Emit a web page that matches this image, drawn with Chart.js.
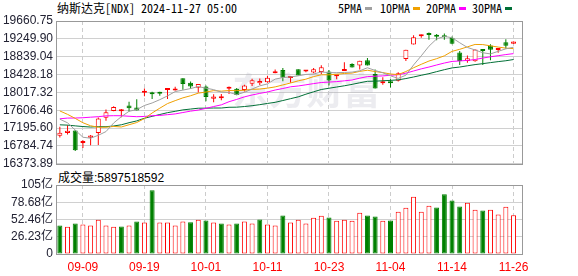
<!DOCTYPE html>
<html lang="zh">
<head>
<meta charset="UTF-8">
<title>纳斯达克[NDX] K线</title>
<script src="https://cdn.jsdelivr.net/npm/chart.js"></script>
<style>
    * { margin: 0; padding: 0; box-sizing: border-box; }
    body { width: 578px; height: 276px; background: #fff; position: relative; overflow: hidden; }
    canvas { position: absolute; left: 0; }
    #kline { top: 0; }
    #vol { top: 170px; }
    .txt { position: absolute; font-size: 12px; line-height: 14px; color: #000; white-space: nowrap; }
    .mono { font-family: 'Noto Sans Mono CJK SC', 'Noto Sans CJK SC', monospace; }
    .sw { position: absolute; top: 7px; width: 7px; height: 3px; }
    #title { left: 57px; top: 1px; }
    #vtitle { left: 58px; top: 171px; font-family: 'Liberation Sans', 'Noto Sans CJK SC', sans-serif; }
</style>
</head>
<body>
<div id="title" class="txt mono">纳斯达克[NDX] 2024-11-27 05:00</div>
<div class="txt mono" style="left:338px;top:1px">5PMA</div>
<div class="sw" style="left:365px;background:#a0a0a0"></div>
<div class="txt mono" style="left:380px;top:1px">10PMA</div>
<div class="sw" style="left:413px;background:#f0a000"></div>
<div class="txt mono" style="left:426px;top:1px">20PMA</div>
<div class="sw" style="left:459px;background:#ff00ff"></div>
<div class="txt mono" style="left:472px;top:1px">30PMA</div>
<div class="sw" style="left:505px;background:#006f36"></div>
<div id="vtitle" class="txt">成交量:5897518592</div>

<canvas id="kline" width="578" height="174"></canvas>
<canvas id="vol" width="578" height="106"></canvas>

<script>
// trading days shown (2024)
const dates = ['09-04','09-05','09-06','09-09','09-10','09-11','09-12','09-13','09-16','09-17',
    '09-18','09-19','09-20','09-23','09-24','09-25','09-26','09-27','09-30','10-01',
    '10-02','10-03','10-04','10-07','10-08','10-09','10-10','10-11','10-14','10-15',
    '10-16','10-17','10-18','10-21','10-22','10-23','10-24','10-25','10-28','10-29',
    '10-30','10-31','11-01','11-04','11-05','11-06','11-07','11-08','11-11','11-12',
    '11-13','11-14','11-15','11-18','11-19','11-20','11-21','11-22','11-25','11-26'];
const xTickLabels = ['09-09','09-19','10-01','10-11','10-23','11-04','11-14','11-26'];

const open = [17020,17081,17142,16853,16975,17081,17431,17591,17584,17713,
    17667,18010,18002,18010,18070,18063,18345,18238,18124,18154,
    17873,17880,18101,18101,18070,18215,18230,18253,18459,18535,
    18350,18550,18497,18474,18489,18497,18390,18512,18672,18634,
    18755,18443,18230,18253,18284,18786,19121,19311,19372,19318,
    19318,19273,18938,18740,18732,18991,19098,18991,19174,19136];
const high = [17226,17264,17150,16914,17035,17439,17622,17697,17637,17804,
    17857,18109,18033,18033,18093,18147,18345,18268,18208,18177,
    17972,17980,18154,18116,18192,18329,18337,18398,18542,18580,
    18390,18550,18520,18580,18641,18535,18413,18710,18687,18748,
    18809,18542,18367,18322,18481,18999,19334,19349,19395,19364,
    19372,19303,18968,18869,19006,18991,19128,19037,19242,19189];
const low = [16982,17051,16670,16739,16800,16807,17363,17584,17446,17576,
    17599,17926,17865,17941,17865,18063,18078,18101,18017,17812,
    17789,17835,17979,17949,18040,18162,18185,18238,18459,18276,
    18238,18405,18481,18459,18443,18177,18322,18512,18588,18542,
    18634,18109,18192,18131,18268,18740,19121,19273,19227,19220,
    19227,19128,18649,18702,18725,18649,18755,18930,19022,19136];
const close = [17089,17135,16686,16883,17028,17416,17561,17682,17606,17652,
    17599,18040,17972,17987,18088,18095,18208,18154,18208,17910,
    17925,17918,18124,17956,18177,18299,18282,18352,18504,18355,
    18378,18405,18512,18550,18595,18291,18413,18535,18588,18748,
    18634,18109,18268,18230,18459,18999,19288,19318,19341,19296,
    19288,19136,18740,18801,19006,18968,18999,19037,19090,19189];
const prevClose = 17136; // close of the day before the first bar

const ma5 = [17401,17317,17151,16985,16963,17030,17115,17314,17459,17583,
    17620,17716,17774,17850,17937,18036,18070,18106,18151,18115,
    18081,18023,18017,17967,18020,18095,18168,18213,18323,18358,
    18374,18399,18431,18440,18488,18471,18472,18477,18484,18515,
    18584,18523,18469,18398,18340,18413,18649,18859,19081,19248,
    19306,19276,19160,19052,18994,18930,18903,18962,19020,19057];
const ma10 = [17590,17512,17419,17319,17249,17215,17216,17233,17222,17273,
    17324,17415,17543,17654,17760,17828,17892,17940,18000,18026,
    18058,18046,18061,18058,18067,18087,18095,18115,18144,18189,
    18234,18283,18322,18381,18423,18422,18435,18453,18462,18501,
    18527,18497,18473,18441,18427,18498,18585,18664,18739,18794,
    18859,18962,19009,19066,19121,19118,19089,19061,19036,19025];
const ma20 = [17410,17426,17428,17434,17447,17458,17477,17481,17480,17468,
    17458,17464,17481,17487,17505,17522,17554,17586,17611,17650,
    17692,17731,17803,17856,17914,17958,17994,18027,18072,18107,
    18146,18165,18192,18220,18245,18255,18265,18284,18303,18345,
    18381,18390,18397,18411,18425,18460,18510,18559,18601,18648,
    18693,18730,18741,18754,18774,18808,18837,18862,18888,18910];
const ma30 = [17271,17264,17247,17231,17220,17229,17228,17244,17272,17320,
    17361,17423,17466,17508,17551,17582,17615,17634,17653,17654,
    17658,17658,17675,17677,17692,17711,17735,17763,17789,17830,
    17873,17915,17976,18031,18084,18113,18141,18170,18202,18239,
    18273,18276,18285,18294,18306,18336,18372,18411,18449,18495,
    18540,18581,18601,18630,18657,18679,18703,18726,18746,18774];

// volume in 亿
const volume = [43.4,41.3,46.4,44.9,43.4,52.0,43.4,41.3,41.8,43.4,
    49.5,48.0,96.9,48.0,48.0,43.4,49.5,48.5,52.0,51.0,
    48.0,46.4,44.9,46.4,49.5,46.4,52.5,44.9,43.4,58.7,
    48.0,52.0,46.4,55.1,58.2,55.6,50.5,52.0,50.5,62.8,
    58.7,57.1,50.5,51.0,64.3,70.4,87.2,64.3,73.5,70.9,
    90.8,81.6,72.4,78.0,67.3,66.3,67.3,60.2,71.9,58.98];

const priceLabels = ['16373.89','16784.74','17195.60','17606.46','18017.32',
    '18428.18','18839.04','19249.90','19660.75'];
const volLabels = ['0','26.23亿','52.46亿','78.68亿','105亿'];
const volTicks = [0, 26.23, 52.46, 78.68, 105];

const RED = '#ff0000', GREEN = '#008000';
const idx = dates.map((d, i) => i);
const xTicks = xTickLabels.map(d => dates.indexOf(d));
const priceTicks = priceLabels.map(Number);
const up = close.map((c, i) => c >= open[i]);
const volUp = close.map((c, i) => c >= (i ? close[i - 1] : prevClose));

const tickFont = { family: "'Liberation Sans', 'Noto Sans CJK SC', sans-serif", size: 12 };

function xAxis(showLabels) {
    return {
        type: 'linear', min: -0.5, max: 60.1, offset: false,
        afterBuildTicks: s => { s.ticks = xTicks.map(v => ({ value: v })); },
        afterFit: s => { s.height = showLabels ? 22 : 0; },
        grid: { color: '#cccccc', drawTicks: false, offset: false },
        border: { display: false, dash: [4, 3] },
        ticks: {
            display: showLabels, padding: 6, color: RED, font: tickFont,
            autoSkip: false, maxRotation: 0, callback: v => dates[v]
        }
    };
}

function yAxis(min, max, ticks, labels) {
    return {
        min, max,
        afterBuildTicks: s => { s.ticks = ticks.map(v => ({ value: v })); },
        afterFit: s => { s.width = 56; },
        grid: { color: '#d0d0d0', drawTicks: false },
        border: { display: false },
        ticks: { padding: 3, color: '#222233', font: tickFont, autoSkip: false,
            callback: (v, i) => labels[i] }
    };
}

// outer frame around the plot area
const frame = {
    id: 'frame',
    afterDatasetsDraw(chart) {
        const { ctx, chartArea: a } = chart;
        ctx.save();
        ctx.strokeStyle = '#999999';
        ctx.lineWidth = 1;
        ctx.strokeRect(Math.round(a.left) + 0.5, Math.round(a.top) + 0.5,
            Math.round(a.right - a.left), Math.round(a.bottom - a.top));
        ctx.restore();
    }
};

// faint site watermark behind the candles
const watermark = {
    id: 'watermark',
    beforeDatasetsDraw(chart) {
        const { ctx, chartArea: a } = chart;
        ctx.save();
        ctx.font = "bold 37px 'Noto Sans CJK SC'";
        ctx.fillStyle = 'rgba(170,170,185,0.22)';
        ctx.textAlign = 'center';
        ctx.textBaseline = 'middle';
        ctx.fillText('东方财富', a.left + (a.right - a.left) * 0.537, a.top + (a.bottom - a.top) * 0.49);
        ctx.restore();
    }
};

const common = {
    responsive: false,
    animation: false,
    events: [],
    plugins: { legend: { display: false }, tooltip: { enabled: false } }
};

function maLine(label, data, color) {
    return { type: 'line', label, data, borderColor: color, borderWidth: 1,
        pointRadius: 0, tension: 0, fill: false, order: 0 };
}

new Chart(document.getElementById('kline'), {
    type: 'bar',
    data: {
        labels: idx,
        datasets: [
            maLine('5PMA', ma5, '#a0a0a0'),
            maLine('10PMA', ma10, '#f0a000'),
            maLine('20PMA', ma20, '#ff00ff'),
            maLine('30PMA', ma30, '#006f36'),
            {
                label: 'body', data: open.map((o, i) => [o, close[i]]),
                backgroundColor: up.map(u => u ? '#ffffff' : GREEN),
                borderColor: up.map(u => u ? RED : GREEN),
                borderWidth: 1, borderSkipped: false, barThickness: 5, minBarLength: 2,
                inflateAmount: 0, grouped: false, order: 1
            },
            {
                label: 'wick', data: low.map((l, i) => [l, high[i]]),
                backgroundColor: up.map(u => u ? RED : GREEN),
                borderWidth: 0, barThickness: 1, inflateAmount: 0, grouped: false, order: 2
            }
        ]
    },
    options: {
        ...common,
        layout: { padding: { top: 21, right: 56, bottom: 9, left: 0 } },
        scales: {
            x: xAxis(false),
            y: yAxis(priceTicks[0], priceTicks[priceTicks.length - 1], priceTicks, priceLabels)
        }
    },
    plugins: [watermark, frame]
});

new Chart(document.getElementById('vol'), {
    type: 'bar',
    data: {
        labels: idx,
        datasets: [{
            label: '成交量', data: volume,
            backgroundColor: volUp.map(u => u ? '#ffffff' : GREEN),
            borderColor: volUp.map(u => u ? RED : GREEN),
            borderWidth: 1, borderSkipped: false, barThickness: 5, inflateAmount: 0
        }]
    },
    options: {
        ...common,
        layout: { padding: { top: 15, right: 56, bottom: 0, left: 0 } },
        scales: {
            x: xAxis(true),
            y: yAxis(0, 105, volTicks, volLabels)
        }
    },
    plugins: [frame]
});
</script>
</body>
</html>
